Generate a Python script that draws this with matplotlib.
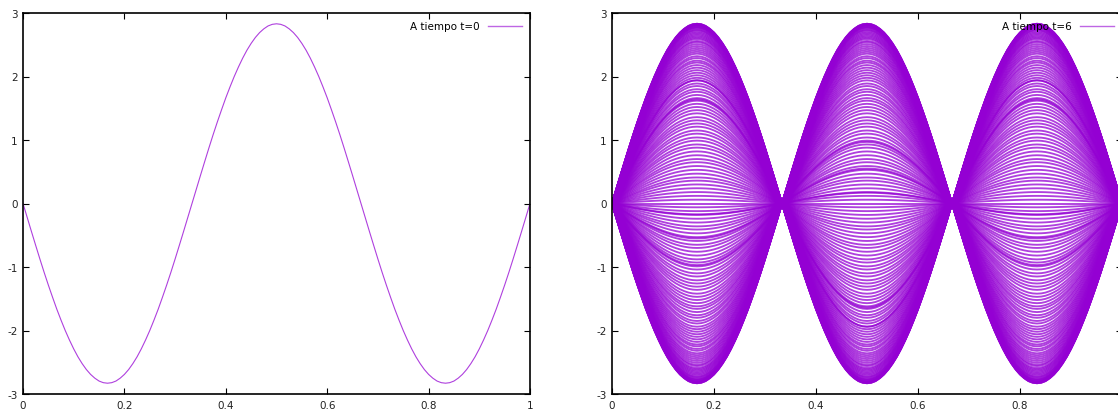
import numpy as np
import matplotlib
matplotlib.use("Agg")
import matplotlib.pyplot as plt

plt.rcParams["axes.unicode_minus"] = False

# x grid of the string (0..1, 121 samples)
x = np.linspace(0, 1, 121)

# mode shape of the string, one value per grid point
lobulo = [0.000, 0.078, 0.156, 0.233, 0.309, 0.383, 0.454, 0.522, 0.588, 0.649,
          0.707, 0.760, 0.809, 0.853, 0.891, 0.924, 0.951, 0.972, 0.988, 0.997,
          1.000, 0.997, 0.988, 0.972, 0.951, 0.924, 0.891, 0.853, 0.809, 0.760,
          0.707, 0.649, 0.588, 0.522, 0.454, 0.383, 0.309, 0.233, 0.156, 0.078]
forma = ([v for v in lobulo] + [-v for v in lobulo] + [v for v in lobulo] + [0.000])

# amplitude at t=0
amp_t0 = -2.83

# amplitudes of every snapshot between t=0 and t=6
amp_hist = [
    2.83, 2.83, 2.83, 2.82, 2.82, 2.81, 2.81, 2.80, 2.79, 2.78,
    2.77, 2.76, 2.74, 2.73, 2.71, 2.69, 2.67, 2.65, 2.63, 2.61,
    2.59, 2.56, 2.54, 2.51, 2.48, 2.45, 2.42, 2.39, 2.36, 2.32,
    2.29, 2.25, 2.22, 2.18, 2.14, 2.10, 2.06, 2.02, 1.98, 1.94,
    1.89, 1.85, 1.80, 1.76, 1.71, 1.66, 1.62, 1.57, 1.52, 1.47,
    1.42, 1.36, 1.31, 1.26, 1.21, 1.15, 1.10, 1.04, 0.99, 0.93,
    0.88, 0.82, 0.76, 0.70, 0.65, 0.59, 0.53, 0.47, 0.41, 0.36,
    0.30, 0.24, 0.18, 0.12, 0.06, 0.00,
    -0.06, -0.12, -0.18, -0.24, -0.30, -0.36, -0.41, -0.47, -0.53, -0.59,
    -0.65, -0.70, -0.76, -0.82, -0.88, -0.93, -0.99, -1.04, -1.10, -1.15,
    -1.21, -1.26, -1.31, -1.36, -1.42, -1.47, -1.52, -1.57, -1.62, -1.66,
    -1.71, -1.76, -1.80, -1.85, -1.89, -1.94, -1.98, -2.02, -2.06, -2.10,
    -2.14, -2.18, -2.22, -2.25, -2.29, -2.32, -2.36, -2.39, -2.42, -2.45,
    -2.48, -2.51, -2.54, -2.56, -2.59, -2.61, -2.63, -2.65, -2.67, -2.69,
    -2.71, -2.73, -2.74, -2.76, -2.77, -2.78, -2.79, -2.80, -2.81, -2.81,
    -2.82, -2.82, -2.83, -2.83, -2.83,
]
# snapshots that repeat (drawn darker)
amp_repetidas = [1.94, 1.64, -0.17, -0.55, -0.97]

color = "#9400d3"
forma = np.array(forma)

fig = plt.figure(figsize=(11.18, 4.10), dpi=100)
ax1 = fig.add_axes([23 / 1118, 15 / 410, 507 / 1118, 381 / 410])
ax2 = fig.add_axes([612 / 1118, 15 / 410, 510 / 1118, 381 / 410])

ax1.plot(x, amp_t0 * forma, color=color, lw=0.8, alpha=0.75, label="A tiempo t=0")

for i, a in enumerate(amp_hist + amp_repetidas):
    ax2.plot(x, a * forma, color=color, lw=1.35, alpha=0.75,
             label="A tiempo t=6" if i == 0 else None)

for ax in (ax1, ax2):
    ax.set_xlim(0, 1)
    ax.set_ylim(-3, 3)
    ax.set_xticks([0, 0.2, 0.4, 0.6, 0.8, 1])
    ax.set_yticks([-3, -2, -1, 0, 1, 2, 3])
    ax.tick_params(direction="in", top=True, right=True, length=4, width=0.8,
                   labelsize=7.5, labelcolor="#222222", pad=4)
    for s in ax.spines.values():
        s.set_linewidth(1.2)
    leg = ax.legend(loc="upper right", frameon=False, markerfirst=False,
                    fontsize=7.5, handlelength=3.2, borderaxespad=0.4)
    for h in leg.get_lines():
        h.set_alpha(0.6)
        h.set_linewidth(1.0)

ax1.set_xticklabels(["0", "0.2", "0.4", "0.6", "0.8", "1"])
ax2.set_xticklabels(["0", "0.2", "0.4", "0.6", "0.8", ""])

fig.savefig("out.png", dpi=100)
